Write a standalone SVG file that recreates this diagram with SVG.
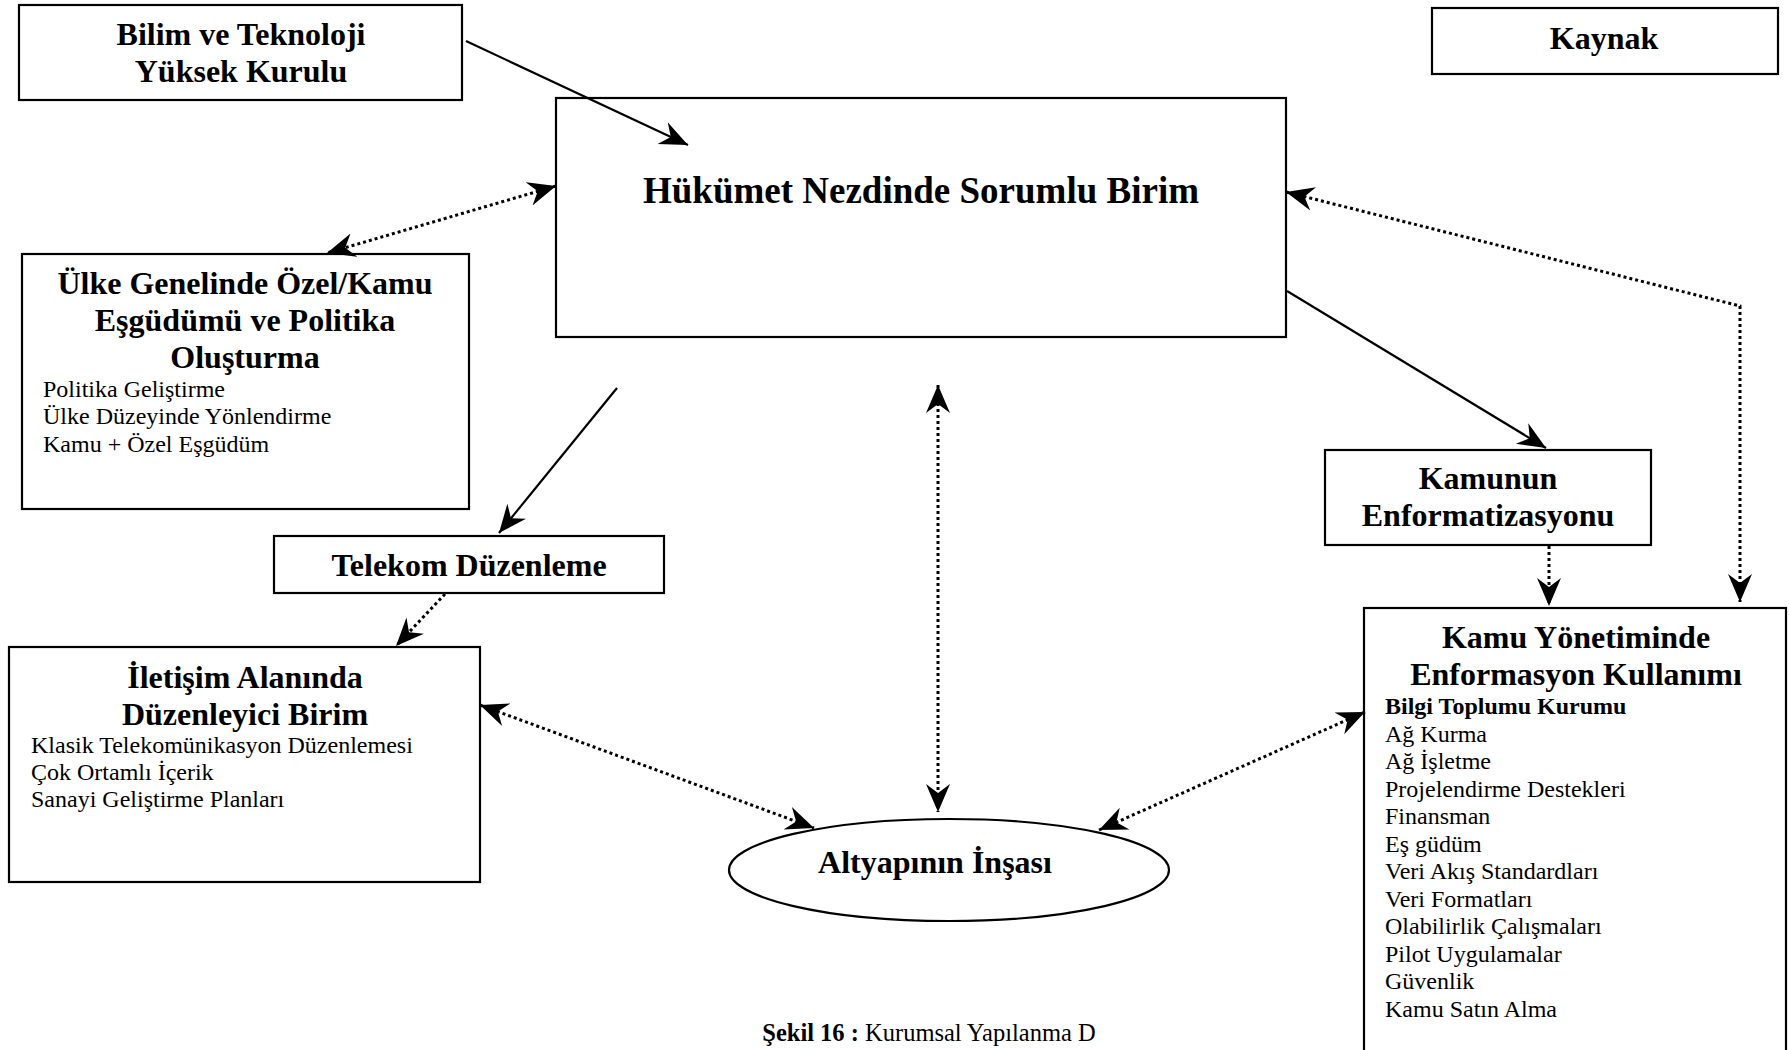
<svg xmlns="http://www.w3.org/2000/svg" width="1789" height="1050" viewBox="0 0 1789 1050">
  <style>
    .box { fill: #ffffff; stroke: #000000; stroke-width: 2.2; }
    .title { font-family: "Liberation Serif", "Times New Roman", serif; font-weight: bold; font-size: 32px; fill: #000; text-anchor: middle; }
    .big { font-size: 37px; }
    .item { font-family: "Liberation Serif", "Times New Roman", serif; font-size: 24px; fill: #000; }
    .itemb { font-weight: bold; }
    .solid { fill: none; stroke: #000; stroke-width: 2.2; }
    .dotted { fill: none; stroke: #000; stroke-width: 3; stroke-dasharray: 3 3; }
    .cap { font-family: "Liberation Serif", "Times New Roman", serif; font-size: 24.5px; fill: #000; text-anchor: middle; }
  </style>
  <defs>
    <marker id="arrow" markerUnits="userSpaceOnUse" viewBox="-28 -13 30 26" refX="0" refY="0" markerWidth="30" markerHeight="26" orient="auto-start-reverse">
      <path d="M0,0 L-28,-12 L-19,0 L-28,12 Z" fill="#000"/>
    </marker>
  </defs>

  <rect width="1789" height="1050" fill="#ffffff"/>

  <g id="bilim">
    <rect class="box" x="19" y="5" width="443" height="95"/>
    <text class="title" x="241" y="45">Bilim ve Teknoloji</text>
    <text class="title" x="241" y="82">Yüksek Kurulu</text>
  </g>

  <g id="kaynak">
    <rect class="box" x="1432" y="8" width="346" height="66"/>
    <text class="title" x="1604" y="49">Kaynak</text>
  </g>

  <g id="hukumet">
    <rect class="box" x="556" y="98" width="730" height="239"/>
    <text class="title big" x="921" y="203">Hükümet Nezdinde Sorumlu Birim</text>
  </g>

  <g id="ulke">
    <rect class="box" x="22" y="254" width="447" height="255"/>
    <text class="title" x="245" y="294">Ülke Genelinde Özel/Kamu</text>
    <text class="title" x="245" y="331">Eşgüdümü ve Politika</text>
    <text class="title" x="245" y="368">Oluşturma</text>
    <text class="item" x="43" y="397">Politika Geliştirme</text>
    <text class="item" x="43" y="424">Ülke Düzeyinde Yönlendirme</text>
    <text class="item" x="43" y="452">Kamu + Özel Eşgüdüm</text>
  </g>

  <g id="telekom">
    <rect class="box" x="274" y="536" width="390" height="57"/>
    <text class="title" x="469" y="576">Telekom Düzenleme</text>
  </g>

  <g id="iletisim">
    <rect class="box" x="9" y="647" width="471" height="235"/>
    <text class="title" x="245" y="688">İletişim Alanında</text>
    <text class="title" x="245" y="725">Düzenleyici Birim</text>
    <text class="item" x="31" y="753">Klasik Telekomünikasyon Düzenlemesi</text>
    <text class="item" x="31" y="780">Çok Ortamlı İçerik</text>
    <text class="item" x="31" y="807">Sanayi Geliştirme Planları</text>
  </g>

  <g id="kamunun">
    <rect class="box" x="1325" y="450" width="326" height="95"/>
    <text class="title" x="1488" y="489">Kamunun</text>
    <text class="title" x="1488" y="526">Enformatizasyonu</text>
  </g>

  <g id="kamu-yonetimi">
    <rect class="box" x="1364" y="608" width="422" height="460"/>
    <text class="title" x="1576" y="648">Kamu Yönetiminde</text>
    <text class="title" x="1576" y="685">Enformasyon Kullanımı</text>
    <text class="item itemb" x="1385" y="714">Bilgi Toplumu Kurumu</text>
    <text class="item" x="1385" y="742">Ağ Kurma</text>
    <text class="item" x="1385" y="769">Ağ İşletme</text>
    <text class="item" x="1385" y="797">Projelendirme Destekleri</text>
    <text class="item" x="1385" y="824">Finansman</text>
    <text class="item" x="1385" y="852">Eş güdüm</text>
    <text class="item" x="1385" y="879">Veri Akış Standardları</text>
    <text class="item" x="1385" y="907">Veri Formatları</text>
    <text class="item" x="1385" y="934">Olabilirlik Çalışmaları</text>
    <text class="item" x="1385" y="962">Pilot Uygulamalar</text>
    <text class="item" x="1385" y="989">Güvenlik</text>
    <text class="item" x="1385" y="1017">Kamu Satın Alma</text>
  </g>

  <g id="altyapi">
    <ellipse class="box" cx="949" cy="870" rx="220" ry="51"/>
    <text class="title" x="935" y="873">Altyapının İnşası</text>
  </g>

  <text class="cap" x="929" y="1041"><tspan font-weight="bold">Şekil 16 :</tspan> Kurumsal Yapılanma D</text>

  <!-- connectors, drawn over the boxes -->
  <g id="connectors">
    <line class="solid" x1="466" y1="41" x2="688" y2="145" marker-end="url(#arrow)"/>
    <line class="dotted" x1="556" y1="186" x2="327" y2="253" marker-start="url(#arrow)" marker-end="url(#arrow)"/>
    <line class="solid" x1="617" y1="388" x2="499" y2="533" marker-end="url(#arrow)"/>
    <line class="dotted" x1="445" y1="594" x2="396" y2="646" marker-end="url(#arrow)"/>
    <line class="dotted" x1="480" y1="705" x2="814" y2="828" marker-start="url(#arrow)" marker-end="url(#arrow)"/>
    <line class="dotted" x1="938" y1="385" x2="938" y2="812" marker-start="url(#arrow)" marker-end="url(#arrow)"/>
    <line class="solid" x1="1287" y1="291" x2="1546" y2="448" marker-end="url(#arrow)"/>
    <line class="dotted" x1="1549" y1="546" x2="1549" y2="606" marker-end="url(#arrow)"/>
    <polyline class="dotted" points="1286,192 1740,306 1740,602" marker-start="url(#arrow)" marker-end="url(#arrow)"/>
    <line class="dotted" x1="1099" y1="830" x2="1365" y2="712" marker-start="url(#arrow)" marker-end="url(#arrow)"/>
  </g>
</svg>
